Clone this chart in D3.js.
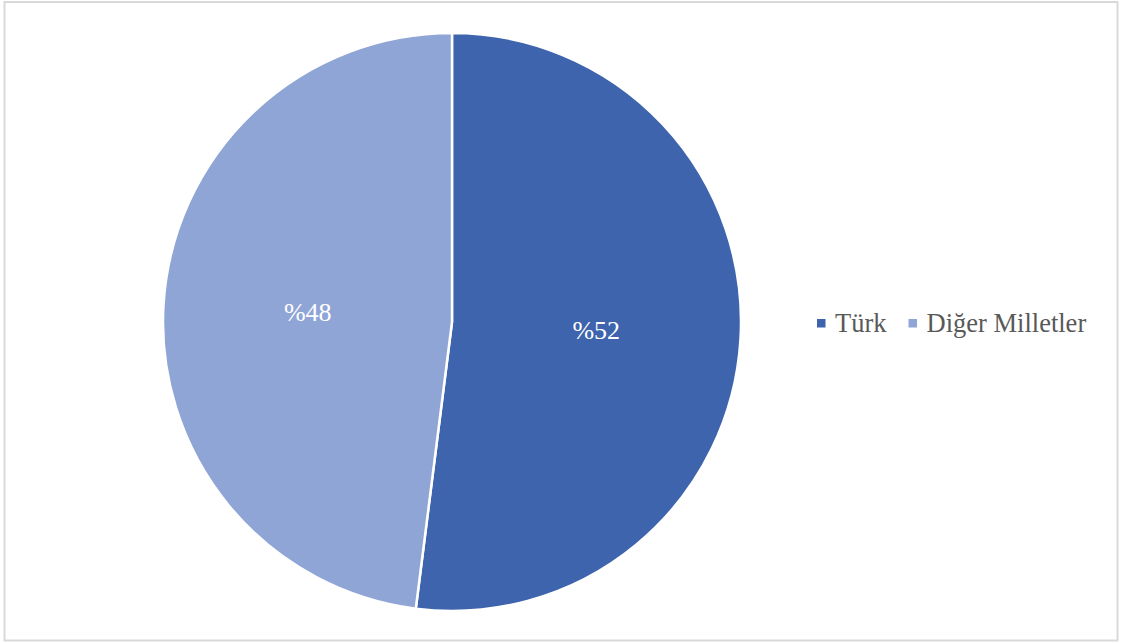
<!DOCTYPE html>
<html>
<head>
<meta charset="utf-8">
<script src="https://cdn.jsdelivr.net/npm/d3@7"></script>
<style>
  html, body { margin: 0; padding: 0; background: #ffffff; }
  svg { display: block; }
  text { font-family: "Liberation Serif", "Times New Roman", "DejaVu Serif", serif; }
</style>
</head>
<body>
<svg id="chart" width="1121" height="643"></svg>
<script>
const categories = ["Türk", "Diğer Milletler"];
const values = [52, 48];
const labels = ["%52", "%48"];
const colors = ["#3D64AD", "#8FA5D5"];

const svg = d3.select("#chart");

svg.append("rect")
  .attr("x", 4.5).attr("y", 2)
  .attr("width", 1113).attr("height", 638.5)
  .attr("fill", "#ffffff")
  .attr("stroke", "#d9d9d9")
  .attr("stroke-width", 2);

const cx = 452, cy = 322, R = 289;

const pie = d3.pie().sort(null).value(d => d.value);
const data = categories.map((c, i) => ({ name: c, value: values[i], label: labels[i], color: colors[i] }));
const arcs = pie(data);

const arc = d3.arc().innerRadius(0).outerRadius(R);
const labelArc = d3.arc().innerRadius(R * 0.5).outerRadius(R * 0.5);

const g = svg.append("g").attr("transform", `translate(${cx},${cy})`);

g.selectAll("path.slice")
  .data(arcs)
  .join("path")
  .attr("class", "slice")
  .attr("d", arc)
  .attr("fill", d => d.data.color)
  .attr("stroke", "#ffffff")
  .attr("stroke-width", 2.5)
  .attr("stroke-linejoin", "round");

g.selectAll("text.lbl")
  .data(arcs)
  .join("text")
  .attr("class", "lbl")
  .attr("transform", d => `translate(${labelArc.centroid(d)})`)
  .attr("text-anchor", "middle")
  .attr("dy", "0.31em")
  .attr("font-size", 26)
  .attr("fill", "#ffffff")
  .text(d => d.data.label);

// Legend
const legend = svg.append("g").attr("transform", "translate(817,332)");
let xpos = 0;
data.forEach((d, i) => {
  const item = legend.append("g").attr("transform", `translate(${xpos},0)`);
  item.append("rect")
    .attr("x", 0).attr("y", -13)
    .attr("width", 8.5).attr("height", 8.5)
    .attr("fill", d.color);
  const t = item.append("text")
    .attr("x", 18).attr("y", 0)
    .attr("font-size", 26.5)
    .attr("fill", "#595959")
    .text(d.name);
  const w = t.node().getComputedTextLength();
  xpos += 18 + w + 22;
});
</script>
</body>
</html>
